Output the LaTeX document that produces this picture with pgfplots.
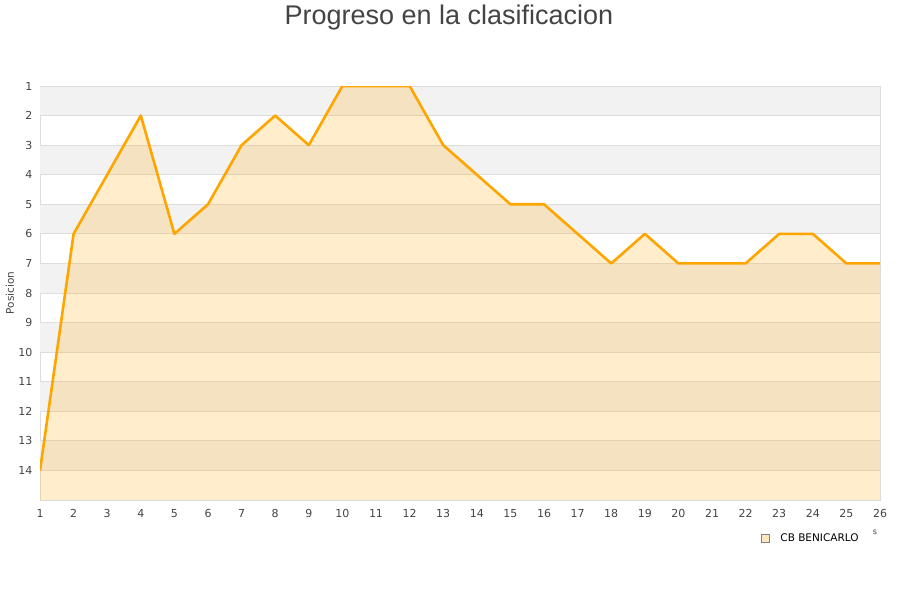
\documentclass[border=0pt]{standalone}
\usepackage{fontspec}
\setmainfont{DejaVu Sans}
\newfontfamily\titlefont{Liberation Sans}
\usepackage{pgfplots}
\pgfplotsset{compat=1.18}
\definecolor{gridc}{HTML}{DDDDDD}
\definecolor{bandc}{HTML}{F2F2F2}
\definecolor{linec}{HTML}{FFA500}
\definecolor{textc}{HTML}{444444}

\begin{document}
\begin{tikzpicture}
\path[use as bounding box] (0pt,0pt) rectangle (900pt,600pt);
\node[font=\titlefont\fontsize{27}{31}\selectfont, text=textc] at (449pt,582pt) {Progreso en la clasificacion};
\node[font=\fontsize{10.5}{12}\selectfont, text=textc, rotate=90] at (10pt,307pt) {Posicion};
\node[font=\fontsize{8}{9}\selectfont, text=textc] at (875pt,68pt) {s};
\begin{axis}[
  at={(40pt,100pt)}, anchor=south west,
  scale only axis, width=840pt, height=414pt,
  y dir=reverse,
  xmin=1, xmax=26, ymin=1, ymax=15,
  xtick={1,...,26}, ytick={1,...,14},
  major tick length=0pt,
  axis line style={draw=gridc, line width=0.8pt},
  tick label style={font=\fontsize{11}{13}\selectfont, text=textc},
  /pgf/number format/assume math mode=true,
  xticklabel style={yshift=-6pt},
  yticklabel style={xshift=-4pt},
  legend style={at={(0.858,-0.092)}, anchor=west, draw=none, fill=none,
    font=\fontsize{10.5}{12}\selectfont, inner sep=0pt},
  legend cell align=left,
  legend image code/.code={
    \draw[fill=linec!25, draw=gray, line width=0.6pt] (0pt,-4pt) rectangle (8pt,4pt);
    \path (17pt,0pt);
  },
]
\pgfplotsinvokeforeach{1,3,5,7,9,11,13}{
  \fill[bandc] (axis cs:1,#1) rectangle (axis cs:26,#1+1);
}
\pgfplotsinvokeforeach{1,...,14}{
  \draw[gridc, line width=0.8pt] (axis cs:1,#1) -- (axis cs:26,#1);
}
\addplot[fill=linec, fill opacity=0.2, draw=none, forget plot] coordinates {
  (1,15) (1,14) (2,6) (3,4) (4,2) (5,6) (6,5) (7,3) (8,2) (9,3) (10,1) (11,1) (12,1)
  (13,3) (14,4) (15,5) (16,5) (17,6) (18,7) (19,6) (20,7) (21,7) (22,7) (23,6)
  (24,6) (25,7) (26,7) (26,15)
};
\addplot[draw=linec, line width=2.6pt, line join=round, forget plot] coordinates {
  (1,14) (2,6) (3,4) (4,2) (5,6) (6,5) (7,3) (8,2) (9,3) (10,1) (11,1) (12,1)
  (13,3) (14,4) (15,5) (16,5) (17,6) (18,7) (19,6) (20,7) (21,7) (22,7) (23,6)
  (24,6) (25,7) (26,7)
};
\addlegendimage{}
\addlegendentry{CB BENICARLO}
\end{axis}
\end{tikzpicture}
\end{document}
